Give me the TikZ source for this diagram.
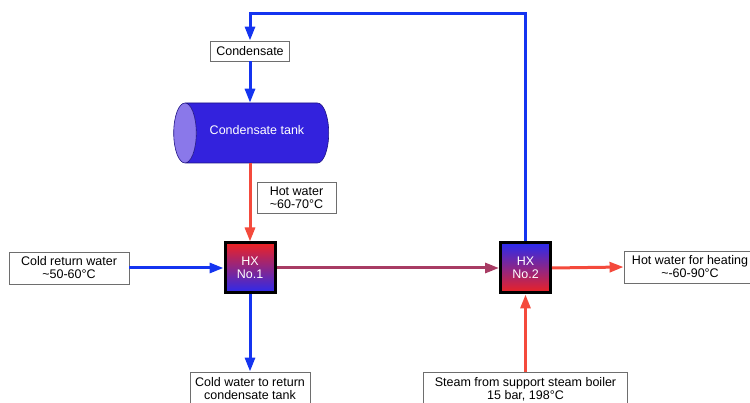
\documentclass[tikz,border=0pt]{standalone}
\usepackage{fontspec}
\setmainfont{Liberation Sans}
\usetikzlibrary{arrows.meta,shapes.geometric,positioning}
\definecolor{flowBlue}{HTML}{1434F0}
\definecolor{flowRed}{HTML}{F44A3C}
\definecolor{flowMauve}{HTML}{A83C64}
\definecolor{tankBody}{HTML}{3322DD}
\definecolor{tankEnd}{HTML}{8A78EA}
\definecolor{hxRed}{HTML}{EE2222}
\definecolor{hxBlue}{HTML}{2A2AEE}
\definecolor{lblGray}{HTML}{6E6E6E}
\tikzset{
    lbl/.style={draw=lblGray, line width=0.9pt, fill=white, align=center, inner sep=2pt},
    tank/.style={cylinder, shape border rotate=180, aspect=1.5, draw=tankBody!60!black, line width=0.6pt,
        cylinder uses custom fill, cylinder body fill=tankBody, cylinder end fill=tankEnd,
        minimum width=60, minimum height=155, inner sep=0pt, text=white},
    hxbox/.style={draw=black, line width=3pt, minimum size=50, inner sep=0pt, align=center, text=white},
    hxone/.style={hxbox, top color=hxRed, bottom color=hxBlue},
    hxtwo/.style={hxbox, top color=hxBlue, bottom color=hxRed},
    flow/.style={line width=3pt, -{Triangle[length=14pt,width=10pt]}},
    bflow/.style={flow, draw=flowBlue},
    rflow/.style={flow, draw=flowRed},
    mflow/.style={flow, draw=flowMauve}
}
\begin{document}
\begin{tikzpicture}[x=1pt, y=-1pt, font=\fontsize{12.5}{13}\selectfont]
\useasboundingbox (0,0) rectangle (750,403);
\clip (0,0) rectangle (750,403);
% boxes and units
\node[lbl, minimum width=79, minimum height=20] (cond) at (250,51) {Condensate};
\node[tank] (tank) at (257,133) {\raisebox{6pt}{Condensate tank}};
\node[hxone] (hx1) at (250,268) {HX\\No.1};
\node[hxtwo] (hx2) at (525.5,268) {HX\\No.2};
\node[lbl, minimum width=120, minimum height=32] (cold) at (69,268) {Cold return water\\\textasciitilde50-60°C};
\node[lbl, minimum width=79, minimum height=31] (hotlbl) at (296.5,197.5) {Hot water\\\textasciitilde60-70°C};
\node[lbl, minimum width=120, minimum height=34] (coldout) at (250,389) {Cold water to return\\condensate tank};
\node[lbl, minimum width=204, minimum height=34] (steam) at (525.5,389) {Steam from support steam boiler\\15 bar, 198°C};
\node[lbl, minimum width=132, minimum height=32] (heat) at (690,267) {Hot water for heating\\\textasciitilde-60-90°C};
\coordinate (loopL) at (250,14);
% flows
\draw[bflow] (hx2.north) |- (loopL) -- (cond.north);
\draw[bflow] (cond.south) -- (cond.south |- tank.north);
\draw[rflow] (hx1.north |- tank.south) -- (hx1.north);
\draw[bflow] (cold.east) -- (hx1.west);
\draw[bflow] (hx1.south) -- (coldout.north);
\draw[mflow] (hx1.east) -- (hx2.west);
\draw[rflow] (hx2.east) -- (heat.west);
\draw[rflow] (steam.north) -- (hx2.south);
\end{tikzpicture}
\end{document}
